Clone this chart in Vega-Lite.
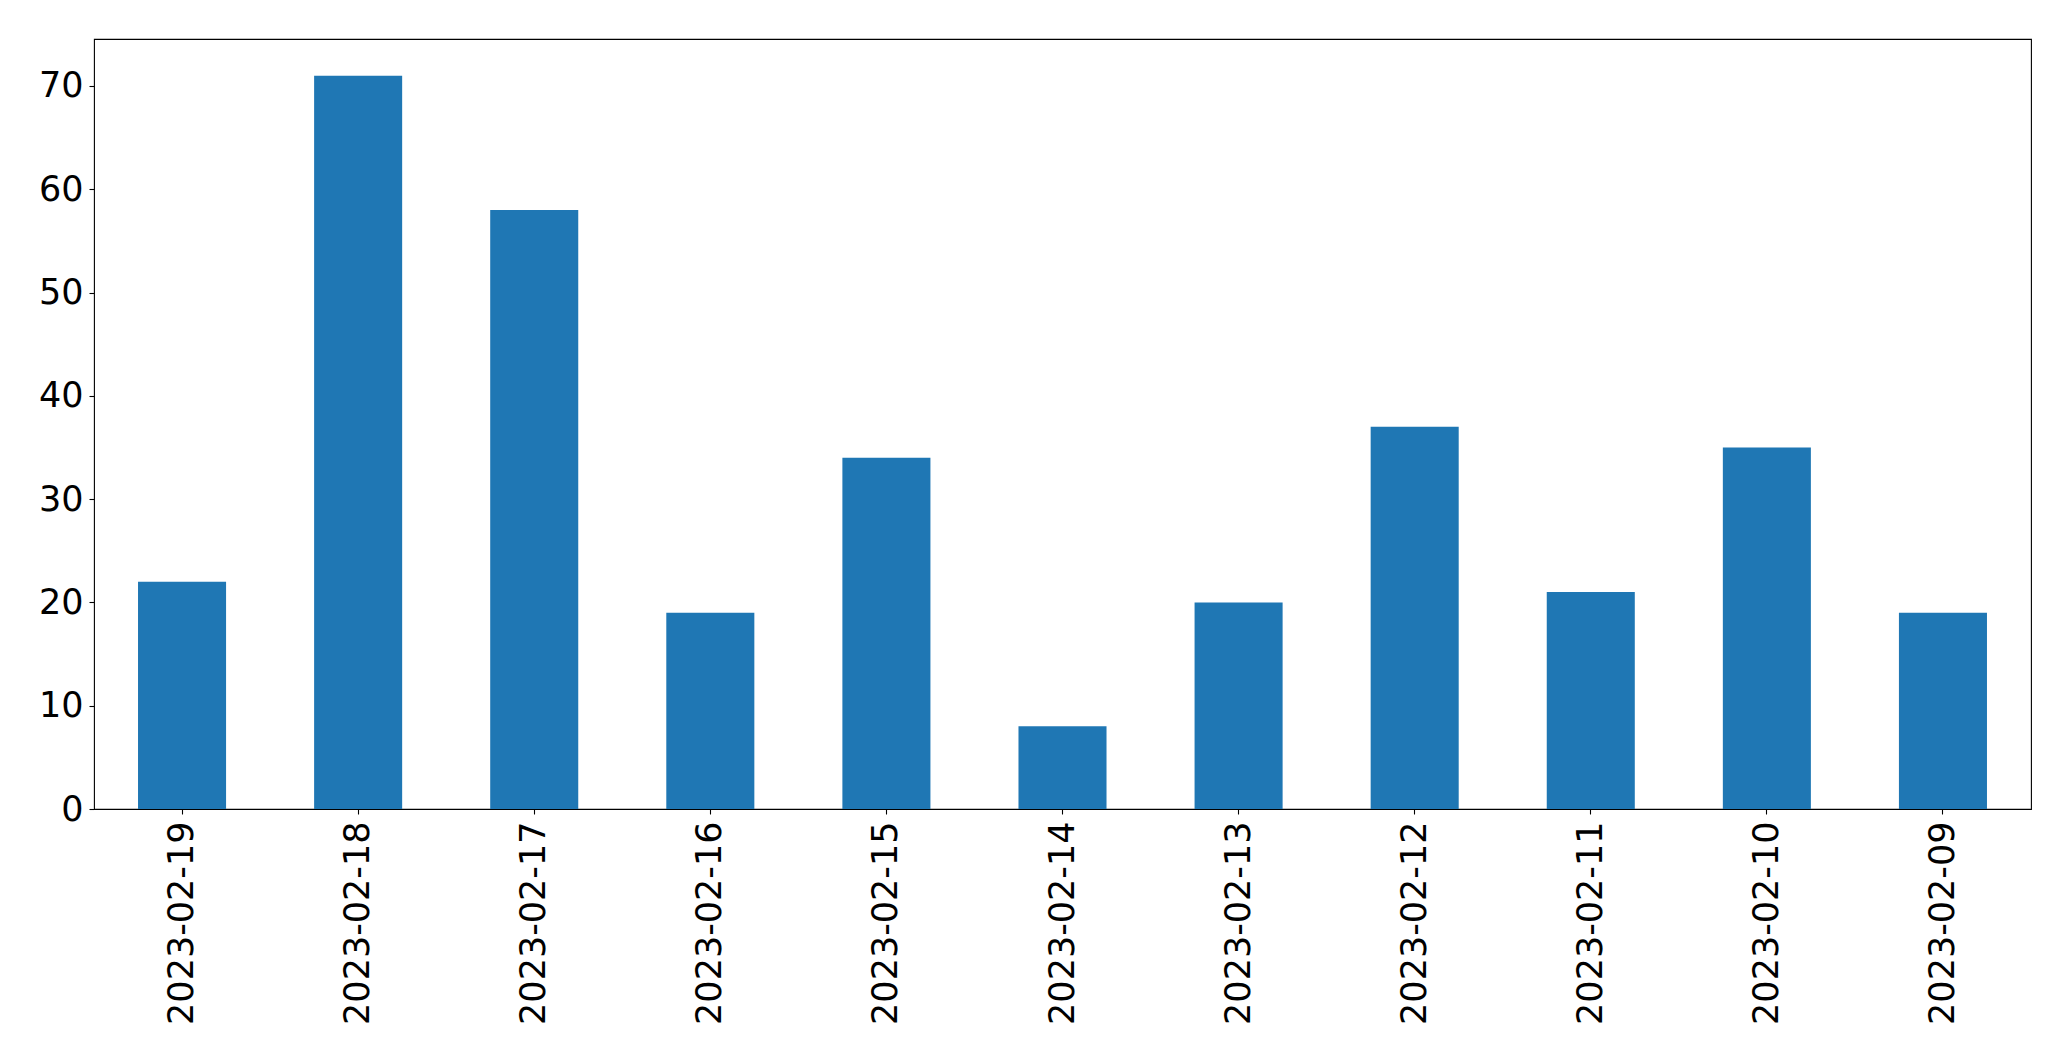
{
  "$schema": "https://vega.github.io/schema/vega-lite/v6.json",
  "autosize": "none",
  "padding": {"left": 94, "top": 39, "right": 40, "bottom": 252},
  "width": 1937,
  "height": 770,
  "background": "white",
  "data": {"values": [
    {"date": "2023-02-19", "count": 22},
    {"date": "2023-02-18", "count": 71},
    {"date": "2023-02-17", "count": 58},
    {"date": "2023-02-16", "count": 19},
    {"date": "2023-02-15", "count": 34},
    {"date": "2023-02-14", "count": 8},
    {"date": "2023-02-13", "count": 20},
    {"date": "2023-02-12", "count": 37},
    {"date": "2023-02-11", "count": 21},
    {"date": "2023-02-10", "count": 35},
    {"date": "2023-02-09", "count": 19}
  ]},
  "mark": {"type": "bar", "color": "#1f77b4"},
  "encoding": {
    "x": {
      "field": "date", "type": "nominal", "sort": null,
      "scale": {"paddingInner": 0.5, "paddingOuter": 0.25},
      "axis": {"title": null, "labelAngle": -90, "labelLimit": 0, "labelFont": "DejaVu Sans", "labelFontSize": 35, "labelColor": "black", "tickColor": "black", "tickSize": 5, "tickWidth": 1.1, "labelPadding": 7, "domain": false}
    },
    "y": {
      "field": "count", "type": "quantitative",
      "scale": {"domain": [0, 74.55], "nice": false, "zero": true},
      "axis": {"title": null, "values": [0, 10, 20, 30, 40, 50, 60, 70], "grid": false, "labelFont": "DejaVu Sans", "labelFontSize": 35, "labelColor": "black", "tickColor": "black", "tickSize": 5, "tickWidth": 1.1, "labelPadding": 6, "domain": false}
    }
  },
  "config": {"view": {"stroke": "black", "strokeWidth": 1.1}}
}
